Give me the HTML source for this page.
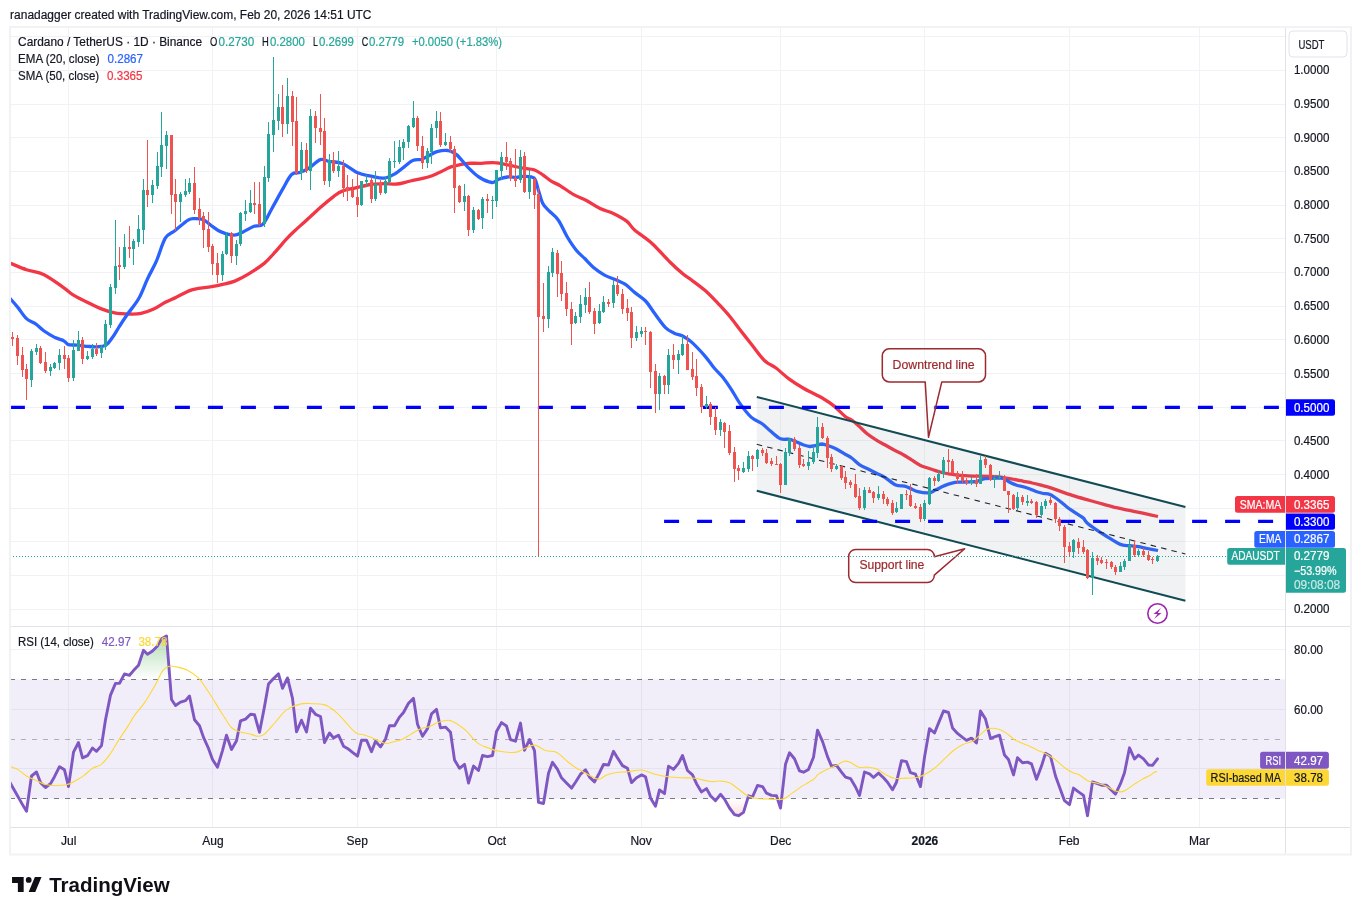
<!DOCTYPE html>
<html lang="en"><head><meta charset="utf-8"><title>ADAUSDT chart</title>
<style>html,body{margin:0;padding:0;background:#fff}body{width:1361px;height:915px;overflow:hidden}svg{display:block}text{font-family:"Liberation Sans", Arial, sans-serif;font-size:12px;fill:#131722;stroke:#131722;stroke-width:.2px}</style>
</head><body>
<svg width="1361" height="915" viewBox="0 0 1361 915">
<defs>
<clipPath id="cm"><rect x="10.5" y="27" width="1275.0" height="599.5"/></clipPath>
<clipPath id="cr"><rect x="10.5" y="626.5" width="1275.0" height="201.0"/></clipPath>
<linearGradient id="gg" gradientUnits="userSpaceOnUse" x1="0" y1="604.7" x2="0" y2="679.4"><stop offset="0" stop-color="#4caf50" stop-opacity="0.75"/><stop offset="1" stop-color="#4caf50" stop-opacity="0"/></linearGradient>
<linearGradient id="gr" gradientUnits="userSpaceOnUse" x1="0" y1="798.8" x2="0" y2="852.5"><stop offset="0" stop-color="#ff5252" stop-opacity="0"/><stop offset="1" stop-color="#ff5252" stop-opacity="0.6"/></linearGradient>
</defs>
<rect width="1361" height="915" fill="#fff"/>
<path d="M68.5,27V827.5M212.5,27V827.5M357.5,27V827.5M496.5,27V827.5M641.5,27V827.5M780.5,27V827.5M924.5,27V827.5M1069.5,27V827.5M1199.5,27V827.5M10,609.5H1285.5M10,575.5H1285.5M10,541.5H1285.5M10,508.5H1285.5M10,474.5H1285.5M10,440.5H1285.5M10,407.5H1285.5M10,373.5H1285.5M10,339.5H1285.5M10,306.5H1285.5M10,272.5H1285.5M10,238.5H1285.5M10,205.5H1285.5M10,171.5H1285.5M10,137.5H1285.5M10,104.5H1285.5M10,70.5H1285.5M10,36.5H1285.5M10,649.5H1285.5M10,709.5H1285.5M10,768.5H1285.5" stroke="#f1f2f5" stroke-width="1" fill="none"/>
<g clip-path="url(#cr)">
<rect x="10" y="679.4" width="1275.5" height="119.4" fill="#7e57c2" fill-opacity="0.1"/>
<path d="M8.2,679.4L12.5,679.4L17.5,679.4L22.5,679.4L26.5,679.4L31.5,679.4L36.5,679.4L40.5,679.4L45.5,679.4L50.5,679.4L54.5,679.4L59.5,679.4L64.5,679.4L68.5,679.4L73.5,679.4L78.5,679.4L82.5,679.4L87.5,679.4L92.5,679.4L96.5,679.4L101.5,679.4L105.5,679.4L110.5,679.4L115.5,679.4L119.5,679.4L124.5,673.9L129.5,675.3L133.5,670.6L138.5,665.3L143.5,650.3L147.5,654.3L152.5,651L157.5,645.9L161.5,638.7L166.5,636L171.5,679.4L175.5,679.4L180.5,679.4L185.5,679.4L189.5,679.4L194.5,679.4L199.5,679.4L203.5,679.4L208.5,679.4L212.5,679.4L217.5,679.4L222.5,679.4L226.5,679.4L231.5,679.4L236.5,679.4L240.5,679.4L245.5,679.4L250.5,679.4L254.5,679.4L259.5,679.4L264.5,679.4L268.5,679.4L273.5,678.6L278.5,673.9L282.5,679.4L287.5,677.9L292.5,679.4L296.5,679.4L301.5,679.4L306.5,679.4L310.5,679.4L315.5,679.4L320.5,679.4L324.5,679.4L329.5,679.4L333.5,679.4L338.5,679.4L343.5,679.4L347.5,679.4L352.5,679.4L357.5,679.4L361.5,679.4L366.5,679.4L371.5,679.4L375.5,679.4L380.5,679.4L385.5,679.4L389.5,679.4L394.5,679.4L399.5,679.4L403.5,679.4L408.5,679.4L413.5,679.4L417.5,679.4L422.5,679.4L427.5,679.4L431.5,679.4L436.5,679.4L440.5,679.4L445.5,679.4L450.5,679.4L454.5,679.4L459.5,679.4L464.5,679.4L468.5,679.4L473.5,679.4L478.5,679.4L482.5,679.4L487.5,679.4L492.5,679.4L496.5,679.4L501.5,679.4L506.5,679.4L510.5,679.4L515.5,679.4L520.5,679.4L524.5,679.4L529.5,679.4L534.5,679.4L538.5,679.4L543.5,679.4L548.5,679.4L552.5,679.4L557.5,679.4L561.5,679.4L566.5,679.4L571.5,679.4L575.5,679.4L580.5,679.4L585.5,679.4L589.5,679.4L594.5,679.4L599.5,679.4L603.5,679.4L608.5,679.4L613.5,679.4L617.5,679.4L622.5,679.4L627.5,679.4L631.5,679.4L636.5,679.4L641.5,679.4L645.5,679.4L650.5,679.4L655.5,679.4L659.5,679.4L664.5,679.4L668.5,679.4L673.5,679.4L678.5,679.4L682.5,679.4L687.5,679.4L692.5,679.4L696.5,679.4L701.5,679.4L706.5,679.4L710.5,679.4L715.5,679.4L720.5,679.4L724.5,679.4L729.5,679.4L734.5,679.4L738.5,679.4L743.5,679.4L748.5,679.4L752.5,679.4L757.5,679.4L762.5,679.4L766.5,679.4L771.5,679.4L776.5,679.4L780.5,679.4L785.5,679.4L789.5,679.4L794.5,679.4L799.5,679.4L803.5,679.4L808.5,679.4L813.5,679.4L817.5,679.4L822.5,679.4L827.5,679.4L831.5,679.4L836.5,679.4L841.5,679.4L845.5,679.4L850.5,679.4L855.5,679.4L859.5,679.4L864.5,679.4L869.5,679.4L873.5,679.4L878.5,679.4L883.5,679.4L887.5,679.4L892.5,679.4L896.5,679.4L901.5,679.4L906.5,679.4L910.5,679.4L915.5,679.4L920.5,679.4L924.5,679.4L929.5,679.4L934.5,679.4L938.5,679.4L943.5,679.4L948.5,679.4L952.5,679.4L957.5,679.4L962.5,679.4L966.5,679.4L971.5,679.4L976.5,679.4L980.5,679.4L985.5,679.4L990.5,679.4L994.5,679.4L999.5,679.4L1004.5,679.4L1008.5,679.4L1013.5,679.4L1017.5,679.4L1022.5,679.4L1027.5,679.4L1031.5,679.4L1036.5,679.4L1041.5,679.4L1045.5,679.4L1050.5,679.4L1055.5,679.4L1059.5,679.4L1064.5,679.4L1069.5,679.4L1073.5,679.4L1078.5,679.4L1083.5,679.4L1087.5,679.4L1092.5,679.4L1097.5,679.4L1101.5,679.4L1106.5,679.4L1111.5,679.4L1115.5,679.4L1120.5,679.4L1124.5,679.4L1129.5,679.4L1134.5,679.4L1138.5,679.4L1143.5,679.4L1148.5,679.4L1152.5,679.4L1157.5,679.4L1157.5,679.4L8.2,679.4Z" fill="url(#gg)"/>
<path d="M8.2,798.8L12.5,798.8L17.5,798.8L22.5,804.6L26.5,811.3L31.5,798.8L36.5,798.8L40.5,798.8L45.5,798.8L50.5,798.8L54.5,798.8L59.5,798.8L64.5,798.8L68.5,798.8L73.5,798.8L78.5,798.8L82.5,798.8L87.5,798.8L92.5,798.8L96.5,798.8L101.5,798.8L105.5,798.8L110.5,798.8L115.5,798.8L119.5,798.8L124.5,798.8L129.5,798.8L133.5,798.8L138.5,798.8L143.5,798.8L147.5,798.8L152.5,798.8L157.5,798.8L161.5,798.8L166.5,798.8L171.5,798.8L175.5,798.8L180.5,798.8L185.5,798.8L189.5,798.8L194.5,798.8L199.5,798.8L203.5,798.8L208.5,798.8L212.5,798.8L217.5,798.8L222.5,798.8L226.5,798.8L231.5,798.8L236.5,798.8L240.5,798.8L245.5,798.8L250.5,798.8L254.5,798.8L259.5,798.8L264.5,798.8L268.5,798.8L273.5,798.8L278.5,798.8L282.5,798.8L287.5,798.8L292.5,798.8L296.5,798.8L301.5,798.8L306.5,798.8L310.5,798.8L315.5,798.8L320.5,798.8L324.5,798.8L329.5,798.8L333.5,798.8L338.5,798.8L343.5,798.8L347.5,798.8L352.5,798.8L357.5,798.8L361.5,798.8L366.5,798.8L371.5,798.8L375.5,798.8L380.5,798.8L385.5,798.8L389.5,798.8L394.5,798.8L399.5,798.8L403.5,798.8L408.5,798.8L413.5,798.8L417.5,798.8L422.5,798.8L427.5,798.8L431.5,798.8L436.5,798.8L440.5,798.8L445.5,798.8L450.5,798.8L454.5,798.8L459.5,798.8L464.5,798.8L468.5,798.8L473.5,798.8L478.5,798.8L482.5,798.8L487.5,798.8L492.5,798.8L496.5,798.8L501.5,798.8L506.5,798.8L510.5,798.8L515.5,798.8L520.5,798.8L524.5,798.8L529.5,798.8L534.5,798.8L538.5,802.4L543.5,803.5L548.5,798.8L552.5,798.8L557.5,798.8L561.5,798.8L566.5,798.8L571.5,798.8L575.5,798.8L580.5,798.8L585.5,798.8L589.5,798.8L594.5,798.8L599.5,798.8L603.5,798.8L608.5,798.8L613.5,798.8L617.5,798.8L622.5,798.8L627.5,798.8L631.5,798.8L636.5,798.8L641.5,798.8L645.5,798.8L650.5,798.8L655.5,806.2L659.5,798.8L664.5,798.8L668.5,798.8L673.5,798.8L678.5,798.8L682.5,798.8L687.5,798.8L692.5,798.8L696.5,798.8L701.5,798.8L706.5,798.8L710.5,798.8L715.5,800.7L720.5,798.8L724.5,799.1L729.5,808L734.5,814.6L738.5,815.7L743.5,812.4L748.5,798.8L752.5,798.8L757.5,798.8L762.5,798.8L766.5,798.8L771.5,798.8L776.5,798.8L780.5,808L785.5,798.8L789.5,798.8L794.5,798.8L799.5,798.8L803.5,798.8L808.5,798.8L813.5,798.8L817.5,798.8L822.5,798.8L827.5,798.8L831.5,798.8L836.5,798.8L841.5,798.8L845.5,798.8L850.5,798.8L855.5,798.8L859.5,798.8L864.5,798.8L869.5,798.8L873.5,798.8L878.5,798.8L883.5,798.8L887.5,798.8L892.5,798.8L896.5,798.8L901.5,798.8L906.5,798.8L910.5,798.8L915.5,798.8L920.5,798.8L924.5,798.8L929.5,798.8L934.5,798.8L938.5,798.8L943.5,798.8L948.5,798.8L952.5,798.8L957.5,798.8L962.5,798.8L966.5,798.8L971.5,798.8L976.5,798.8L980.5,798.8L985.5,798.8L990.5,798.8L994.5,798.8L999.5,798.8L1004.5,798.8L1008.5,798.8L1013.5,798.8L1017.5,798.8L1022.5,798.8L1027.5,798.8L1031.5,798.8L1036.5,798.8L1041.5,798.8L1045.5,798.8L1050.5,798.8L1055.5,798.8L1059.5,798.8L1064.5,800.7L1069.5,804.6L1073.5,798.8L1078.5,798.8L1083.5,798.8L1087.5,815.7L1092.5,798.8L1097.5,798.8L1101.5,798.8L1106.5,798.8L1111.5,798.8L1115.5,798.8L1120.5,798.8L1124.5,798.8L1129.5,798.8L1134.5,798.8L1138.5,798.8L1143.5,798.8L1148.5,798.8L1152.5,798.8L1157.5,798.8L1157.5,798.8L8.2,798.8Z" fill="url(#gr)"/>
<path d="M10,679.5H1285.5 M10,798.5H1285.5" stroke="#787b86" stroke-width="1" stroke-dasharray="5 6" fill="none"/>
<path d="M10,739.5H1285.5" stroke="#787b86" stroke-opacity="0.55" stroke-width="1" stroke-dasharray="5 6" fill="none"/>
</g>
<g clip-path="url(#cm)" fill="none" stroke-linecap="butt" stroke-linejoin="round">
<path d="M5.5,261.5C6.2,261.8 6.4,261.7 9.9,263.1C13.4,264.4 20.8,267.7 26.5,269.7C32.1,271.6 37.8,271.7 44.1,274.7C50.3,277.8 59.1,284.4 63.9,287.8C68.7,291.1 68.7,292.1 72.7,294.6C76.8,297.1 83.4,300.4 88.2,302.7C92.9,305.1 97,307.2 101.4,308.9C105.8,310.6 109.8,312 114.6,312.9C119.4,313.7 125.6,313.9 130.1,314C134.5,314.1 137,314.2 141.1,313.3C145.1,312.4 150.3,310.5 154.3,308.7C158.3,306.9 161.6,304.2 165.3,302.3C169,300.4 172.3,299.2 176.3,297.2C180.4,295.3 185.9,292.1 189.6,290.6C193.2,289.1 194.7,289.1 198.4,288.4C202.1,287.8 207.6,287.3 211.6,286.6C215.7,286 218.8,285.4 222.6,284.4C226.5,283.5 230.3,282.9 234.8,281.1C239.2,279.3 244.1,276.7 249.1,273.6C254,270.6 260.1,266.7 264.5,263.1C268.9,259.4 271.9,255.6 275.5,251.6C279.2,247.6 283.1,242.5 286.6,238.8C290,235.2 292.6,232.8 296,229.6C299.4,226.5 303,223.4 307,219.7C311.1,216.1 315.9,211.5 320.3,207.6C324.7,203.7 329.8,199.3 333.5,196.6C337.2,193.8 338.6,192.5 342.3,191.1C346,189.6 350.8,188.9 355.5,187.8C360.3,186.7 366.2,185.2 371,184.5C375.7,183.8 379.7,183.7 384.1,183.6C388.5,183.5 392.9,184.5 397.3,184C401.7,183.6 405.4,182.1 410.5,181C415.7,179.8 423.4,178.4 428.2,177C432.9,175.6 435.5,174.2 439.2,172.6C442.9,170.9 446.9,168.4 450.2,167.1C453.5,165.8 456.1,165.5 459,164.9C462,164.2 464.2,163.6 467.8,163.3C471.5,163.1 476.7,163.4 481.1,163.3C485.5,163.2 489.9,162.4 494.3,162.7C498.7,162.9 502.7,163.9 507.5,164.9C512.3,165.8 518.5,167.4 523,168.2C527.4,169 530.7,168.6 534,169.7C537.3,170.8 539.9,172.8 542.8,174.8C545.7,176.7 548.7,179.6 551.6,181.4C554.5,183.2 556.8,183.6 560.4,185.8C564.1,188 569.2,192.1 573.7,194.6C578.1,197.1 582.5,198.5 586.9,200.8C591.3,203.1 595.7,206.4 600.1,208.5C604.5,210.6 608.9,211.3 613.3,213.4C617.7,215.5 623,218.3 626.6,221.1C630.1,223.8 630.3,226.2 634.6,230C638.9,233.8 646.4,238.3 652.3,243.7C658.1,249 664.7,256.9 669.9,262C675,267 679.4,271 683.1,274.1C686.8,277.1 688.3,277.5 691.9,280.3C695.6,283 700.7,286.7 705.2,290.6C709.6,294.5 714.3,299.6 718.4,303.8C722.4,308.1 725.7,311.6 729.4,316C733.1,320.4 736.8,325.6 740.4,330.3C744.1,335 747.4,339.1 751.4,344.2C755.5,349.3 760.6,356.8 764.7,360.7C768.7,364.6 771.7,364.8 775.7,367.8C779.7,370.8 784.1,375.3 788.9,378.8C793.7,382.3 798.6,385.4 804.3,388.7C810.1,392 818.4,395.7 823.4,398.7C828.5,401.6 830.8,403.4 834.5,406.4C838.1,409.4 842.6,414.5 845.5,416.7C848.4,419 849.6,418.5 851.7,420C853.9,421.5 855.8,423.2 858.3,425.5C860.9,427.8 864.2,431.4 867.1,433.8C870.1,436.2 873,438 876,439.8C878.9,441.7 881.8,443.1 884.8,444.8C887.7,446.5 890.7,448.2 893.6,449.8C896.5,451.3 899.5,452.5 902.4,454.2C905.4,455.8 908.3,457.8 911.2,459.7C914.2,461.5 916.4,463.5 920.1,465.2C923.7,466.9 929.4,468.5 933.1,469.8C936.7,471 938.9,471.8 941.9,472.5C944.8,473.2 947.8,473.7 950.7,474.2C953.6,474.6 956.6,475 959.5,475.3C962.5,475.5 965.4,475.7 968.3,475.8C971.3,476 973.8,476.1 977.1,476.1C980.5,476.2 984.5,476.2 988.2,476.4C991.8,476.5 996.3,476.6 999.2,476.9C1002.1,477.2 1003.2,477.6 1005.8,478C1008.4,478.4 1011.7,478.9 1014.6,479.5C1017.6,480 1020.5,480.7 1023.4,481.3C1026.4,481.9 1029.3,482.3 1032.3,483C1035.2,483.6 1038.1,484.4 1041.1,485.2C1044,486 1044.8,485.9 1050,487.6C1055.2,489.3 1065.6,493.2 1072.3,495.4C1078.9,497.5 1084.7,499 1089.9,500.5C1095,501.9 1098.7,503 1103.1,504.2C1107.5,505.4 1111.9,506.7 1116.3,507.7C1120.7,508.8 1125.2,509.5 1129.6,510.4C1134,511.3 1138.1,512.2 1142.8,513.2C1147.5,514.3 1155.5,516 1158,516.5" stroke="#f23645" stroke-width="3.3"/>
<path d="M5.5,293.9C6.2,294.7 7.9,296.1 9.9,298.3C11.9,300.5 14.9,303.8 17.6,307.1C20.4,310.5 23.5,315.9 26.5,318.6C29.4,321.4 32.3,321.6 35.3,323.7C38.2,325.7 40.8,328.6 44.1,331C47.4,333.3 51.8,335.9 55.1,337.6C58.4,339.2 61.7,339.7 63.9,340.9C66.1,342 66.1,343.9 68.3,344.6C70.5,345.3 73.8,344.8 77.1,345.1C80.5,345.4 84.9,346.1 88.2,346.4C91.5,346.7 94,347 97,346.8C99.9,346.6 103.2,346.6 105.8,345.1C108.4,343.5 110.2,340.6 112.4,337.6C114.6,334.6 116.5,331 119,327C121.6,323 124.5,318.5 127.8,313.8C131.2,309 135.6,304.2 138.9,298.3C142.2,292.5 144.7,284.7 147.7,278.5C150.6,272.2 153.6,267.6 156.5,260.9C159.4,254.1 162.3,243.2 165.3,238.2C168.4,233.1 171,233.7 174.8,230.7C178.6,227.8 184.7,222.2 188,220.2C191.3,218.1 192,218.7 194.6,218.6C197.2,218.6 200.5,218.4 203.4,219.7C206.4,221 209.3,224.3 212.3,226.3C215.2,228.4 217.4,230.4 221.1,231.9C224.7,233.3 230.6,235.2 234.3,235.2C238,235.2 239.8,233.3 243.1,231.9C246.4,230.4 250.8,227.6 254.1,226.3C257.4,225.1 260,227.1 263,224.1C265.9,221.2 268.5,214.6 271.8,208.7C275.1,202.8 279.5,194.6 282.8,188.9C286.1,183.2 288.7,177.3 291.6,174.5C294.5,171.8 297.5,173.4 300.4,172.3C303.4,171.2 305.9,170.1 309.2,167.9C312.5,165.8 317,160.7 320.3,159.6C323.6,158.4 325.4,160.7 329.1,161.3C332.8,162 337.5,161.6 342.3,163.5C347.1,165.4 353,170.7 357.7,172.8C362.5,174.9 366.6,175.2 371,176.1C375.4,177 380.1,178.5 384.1,178.1C388.1,177.7 391.8,175.5 395.1,173.7C398.4,171.8 401,169.3 403.9,167.1C406.9,164.9 409.8,161.7 412.7,160.5C415.7,159.2 419,160.1 421.6,159.4C424.1,158.6 425.6,157.3 428.2,156C430.7,154.8 433.7,152.6 437,151.6C440.3,150.7 444.7,150 448,150.5C451.3,151.1 453.5,152.2 456.8,154.9C460.1,157.7 464.2,163.4 467.8,167.1C471.5,170.7 474.8,174.4 478.9,177C482.9,179.6 488.8,182.1 492.1,182.5C495.4,182.9 496.1,180.1 498.7,179.2C501.3,178.3 504.6,177.3 507.5,177C510.5,176.7 513.8,177.5 516.3,177.4C518.9,177.3 520,176.2 523,176.3C525.9,176.4 531.4,175.8 534,178.1C536.5,180.4 536.9,186 538.4,190.2C539.9,194.4 541,199.9 542.8,203.4C544.6,206.9 546.8,208.4 549.4,211.2C552,213.9 555.3,215.7 558.2,220C561.2,224.2 564.1,231.5 567,236.5C570,241.5 572.9,246.1 575.9,249.7C578.8,253.4 581.7,255.6 584.7,258.5C587.6,261.5 590.2,264.6 593.5,267.4C596.8,270.1 600.6,272.9 604.5,275.1C608.4,277.2 613.4,278.7 617,280.3C620.5,281.9 622.9,282.6 625.8,284.7C628.7,286.7 631.3,289.7 634.6,292.4C637.9,295.1 642.3,297.5 645.6,301C648.9,304.5 651.2,308.9 654.5,313.3C657.8,317.8 662.2,324.3 665.5,327.6C668.8,331 671.4,331.7 674.3,333.2C677.2,334.6 680.2,334.7 683.1,336.2C686.1,337.8 688.3,339.1 691.9,342.4C695.6,345.8 701.5,352.1 705.2,356.3C708.8,360.5 711,364.3 714,367.8C716.9,371.3 719.9,373.6 722.8,377.2C725.7,380.9 728.7,385.3 731.6,389.8C734.5,394.3 737.1,399.5 740.4,404.1C743.7,408.7 747.8,414.1 751.4,417.4C755.1,420.7 759.3,421.7 762.5,424C765.7,426.3 767.5,428.6 770.5,431.1C773.5,433.5 777.2,437.4 780.5,438.8C783.7,440.1 787.3,438.7 790,439.3C792.7,439.8 794.4,441.1 796.6,442C798.8,443 801,444.1 803.2,444.8C805.4,445.5 807.8,446.3 809.8,446.5C811.9,446.6 813.3,446 815.3,445.6C817.4,445.2 819.8,444 822,444C824.2,444.1 826.2,445.1 828.6,445.9C831,446.7 833.5,447.5 836.3,448.9C839,450.3 842.5,452.6 845.1,454.2C847.7,455.7 849.3,456.3 851.7,458C854.1,459.8 856.9,462.9 859.4,464.6C862,466.4 864.4,467.1 867.1,468.5C869.9,469.9 873,471.4 876,472.9C878.9,474.4 881.5,475.3 884.8,477.3C888.1,479.3 892.5,483.6 895.8,485C899.1,486.5 902,485.5 904.6,486.1C907.2,486.8 909,488 911.2,488.9C913.4,489.8 914.9,491 917.8,491.6C920.8,492.3 925.8,493.2 928.7,492.9C931.6,492.7 933.1,491.2 935.3,490.1C937.5,489.1 939.7,487.9 941.9,486.8C944.1,485.8 946.3,484.8 948.5,484.1C950.7,483.4 952.9,482.8 955.1,482.4C957.3,482.1 959.1,482.2 961.7,482.1C964.3,482 968,482 970.5,481.9C973.1,481.8 975.3,481.7 977.1,481.3C979,481 980.3,480.1 981.6,479.7C982.8,479.2 983.2,478.8 984.9,478.6C986.5,478.4 989.1,478.4 991.5,478.4C993.9,478.3 997.2,478 999.2,478C1001.2,478.1 1001.8,477.8 1003.6,478.6C1005.4,479.3 1008,481.3 1010.2,482.4C1012.4,483.5 1014.6,484.5 1016.8,485.2C1019,485.9 1021.2,486.2 1023.4,486.8C1025.6,487.5 1027.8,488.2 1030.1,489C1032.3,489.9 1034.5,491.1 1036.7,491.8C1038.9,492.5 1041.1,493 1043.3,493.5C1045.5,493.9 1047.4,493.4 1050,494.6C1052.6,495.7 1056.1,498.3 1059,500.5C1062,502.7 1064.9,505.5 1067.8,507.7C1070.8,509.9 1074.1,512 1076.7,513.7C1079.2,515.4 1081.4,516.4 1083.3,518.1C1085.1,519.7 1085.1,521.4 1087.7,523.6C1090.3,525.8 1095.4,529.1 1098.7,531.3C1102,533.5 1104.6,535 1107.5,536.8C1110.5,538.7 1113.8,540.9 1116.3,542.3C1118.9,543.7 1120.7,544.7 1123,545.2C1125.2,545.8 1127,545.4 1129.6,545.6C1132.1,545.9 1135.4,546.3 1138.4,546.7C1141.3,547.2 1143.9,547.9 1147.2,548.5C1150.5,549.1 1156.2,550.2 1158,550.5" stroke="#2962ff" stroke-width="3.3"/>
</g>
<g clip-path="url(#cm)">
<path d="M756.8,396.9L1185.4,507.1L1185.4,600.7L756.8,490.8Z" fill="#787b86" fill-opacity="0.1"/>
<path d="M756.8,444.3L1185.4,554.0" stroke="#1e222d" stroke-width="1.1" stroke-dasharray="5.5 5.2" fill="none"/>
<path d="M756.8,396.9L1185.4,507.1M756.8,490.8L1185.4,600.7" stroke="#114b54" stroke-width="2.1" fill="none"/>
<path d="M9.9,407.3H1285.5" stroke="#0000ff" stroke-width="3.2" stroke-dasharray="15 18" fill="none"/>
<path d="M664.1,521.4H1285.5" stroke="#0000ff" stroke-width="3.2" stroke-dasharray="15 18" fill="none"/>
<path d="M889.3,348.8H978.5A7,7 0 0 1 985.5,355.8V374.9A7,7 0 0 1 978.5,381.9H941.8L928.5,437.3L925.2,381.9H889.3A7,7 0 0 1 882.3,374.9V355.8A7,7 0 0 1 889.3,348.8Z" fill="#fff" fill-opacity="0.3" stroke="#9c2a2f" stroke-width="1.5" stroke-linejoin="round"/>
<path d="M855.7,549.4H927.3A7,7 0 0 1 934.3,556.4V556.7L964.7,548.7L934.3,575.1V575.5A7,7 0 0 1 927.3,582.5H855.7A7,7 0 0 1 848.7,575.5V556.4A7,7 0 0 1 855.7,549.4Z" fill="#fff" fill-opacity="0.3" stroke="#9c2a2f" stroke-width="1.5" stroke-linejoin="round"/>
</g>
<text x="933.6" y="369" text-anchor="middle" style="fill:#9c2a2f;stroke:#9c2a2f" textLength="82" lengthAdjust="spacingAndGlyphs">Downtrend line</text>
<text x="891.9" y="568.6" text-anchor="middle" style="fill:#9c2a2f;stroke:#9c2a2f" textLength="65" lengthAdjust="spacingAndGlyphs">Support line</text>
<g clip-path="url(#cm)" shape-rendering="crispEdges">
<path d="M31,349h1v38h-1zM30,351h3v29h-3zM36,344h1v11h-1zM35,348h3v4h-3zM50,364h1v12h-1zM49,367h3v4h-3zM54,362h1v7h-1zM53,363h3v5h-3zM59,349h1v21h-1zM58,355h3v8h-3zM73,340h1v41h-1zM72,350h3v28h-3zM78,331h1v20h-1zM77,340h3v11h-3zM87,351h1v9h-1zM86,356h3v3h-3zM92,344h1v15h-1zM91,349h3v8h-3zM101,345h1v13h-1zM100,347h3v6h-3zM105,320h1v30h-1zM104,324h3v23h-3zM110,284h1v44h-1zM109,287h3v38h-3zM115,220h1v74h-1zM114,266h3v22h-3zM124,234h1v35h-1zM123,247h3v20h-3zM133,239h1v26h-1zM132,241h3v8h-3zM138,215h1v32h-1zM137,229h3v13h-3zM143,179h1v65h-1zM142,190h3v40h-3zM152,180h1v23h-1zM151,185h3v10h-3zM157,152h1v37h-1zM156,166h3v20h-3zM161,112h1v65h-1zM160,145h3v22h-3zM166,131h1v38h-1zM165,135h3v11h-3zM180,192h1v30h-1zM179,194h3v8h-3zM185,179h1v18h-1zM184,191h3v4h-3zM189,178h1v16h-1zM188,183h3v9h-3zM222,251h1v30h-1zM221,254h3v21h-3zM226,232h1v23h-1zM225,235h3v19h-3zM236,240h1v25h-1zM235,244h3v12h-3zM240,212h1v34h-1zM239,213h3v31h-3zM245,200h1v21h-1zM244,211h3v3h-3zM250,190h1v23h-1zM249,203h3v9h-3zM264,166h1v61h-1zM263,177h3v47h-3zM268,122h1v60h-1zM267,134h3v44h-3zM273,57h1v95h-1zM272,120h3v15h-3zM278,94h1v36h-1zM277,107h3v14h-3zM287,78h1v56h-1zM286,96h3v28h-3zM301,142h1v38h-1zM300,150h3v23h-3zM310,109h1v81h-1zM309,116h3v55h-3zM329,154h1v33h-1zM328,160h3v21h-3zM338,151h1v26h-1zM337,166h3v5h-3zM361,181h1v25h-1zM360,181h3v24h-3zM366,175h1v12h-1zM365,180h3v2h-3zM375,171h1v30h-1zM374,184h3v15h-3zM385,177h1v17h-1zM384,181h3v12h-3zM389,158h1v26h-1zM388,161h3v21h-3zM394,141h1v27h-1zM393,161h3v1h-3zM399,140h1v24h-1zM398,147h3v15h-3zM403,139h1v21h-1zM402,142h3v6h-3zM408,125h1v23h-1zM407,126h3v16h-3zM413,101h1v27h-1zM412,118h3v9h-3zM427,148h1v20h-1zM426,151h3v12h-3zM431,124h1v40h-1zM430,128h3v24h-3zM436,111h1v27h-1zM435,121h3v7h-3zM445,133h1v13h-1zM444,142h3v3h-3zM464,184h1v27h-1zM463,196h3v6h-3zM473,207h1v26h-1zM472,210h3v20h-3zM482,197h1v32h-1zM481,199h3v19h-3zM492,196h1v23h-1zM491,200h3v1h-3zM496,170h1v37h-1zM495,170h3v31h-3zM501,152h1v28h-1zM500,157h3v14h-3zM520,150h1v33h-1zM519,157h3v23h-3zM529,170h1v29h-1zM528,178h3v14h-3zM548,266h1v62h-1zM547,272h3v47h-3zM552,248h1v29h-1zM551,252h3v21h-3zM575,312h1v12h-1zM574,316h3v7h-3zM580,295h1v28h-1zM579,304h3v13h-3zM585,288h1v25h-1zM584,297h3v8h-3zM599,304h1v20h-1zM598,311h3v12h-3zM603,296h1v17h-1zM602,302h3v10h-3zM613,280h1v28h-1zM612,285h3v18h-3zM636,326h1v15h-1zM635,332h3v6h-3zM641,327h1v10h-1zM640,331h3v3h-3zM659,373h1v37h-1zM658,376h3v18h-3zM668,349h1v45h-1zM667,355h3v30h-3zM678,350h1v24h-1zM677,354h3v6h-3zM682,336h1v20h-1zM681,344h3v11h-3zM706,396h1v13h-1zM705,404h3v3h-3zM720,419h1v17h-1zM719,422h3v8h-3zM743,462h1v11h-1zM742,468h3v4h-3zM748,451h1v21h-1zM747,456h3v13h-3zM757,449h1v18h-1zM756,450h3v9h-3zM785,448h1v37h-1zM784,452h3v33h-3zM789,438h1v18h-1zM788,439h3v14h-3zM808,451h1v19h-1zM807,462h3v4h-3zM813,446h1v18h-1zM812,452h3v10h-3zM817,417h1v41h-1zM816,427h3v26h-3zM836,464h1v6h-1zM835,466h3v3h-3zM864,487h1v23h-1zM863,490h3v18h-3zM878,486h1v14h-1zM877,494h3v4h-3zM896,502h1v11h-1zM895,508h3v4h-3zM901,494h1v15h-1zM900,494h3v15h-3zM924,500h1v21h-1zM923,503h3v16h-3zM929,477h1v28h-1zM928,478h3v26h-3zM938,470h1v12h-1zM937,474h3v7h-3zM943,457h1v21h-1zM942,460h3v14h-3zM971,477h1v8h-1zM970,480h3v3h-3zM980,456h1v28h-1zM979,460h3v24h-3zM994,475h1v13h-1zM993,478h3v2h-3zM999,471h1v9h-1zM998,477h3v1h-3zM1017,492h1v18h-1zM1016,497h3v11h-3zM1027,495h1v11h-1zM1026,501h3v2h-3zM1041,502h1v14h-1zM1040,506h3v9h-3zM1045,499h1v10h-1zM1044,501h3v5h-3zM1073,539h1v19h-1zM1072,540h3v12h-3zM1092,552h1v43h-1zM1091,558h3v20h-3zM1120,562h1v10h-1zM1119,566h3v6h-3zM1124,559h1v11h-1zM1123,561h3v6h-3zM1129,539h1v22h-1zM1128,545h3v16h-3zM1138,549h1v7h-1zM1137,551h3v4h-3zM1157,555h1v7h-1zM1156,556h3v5h-3z" fill="#26a69a"/>
<path d="M12,332h1v14h-1zM11,337h3v2h-3zM17,335h1v30h-1zM16,338h3v18h-3zM22,347h1v30h-1zM21,355h3v15h-3zM26,364h1v36h-1zM25,369h3v10h-3zM40,346h1v18h-1zM39,348h3v15h-3zM45,352h1v21h-1zM44,362h3v9h-3zM64,346h1v23h-1zM63,355h3v4h-3zM68,355h1v27h-1zM67,358h3v20h-3zM82,337h1v27h-1zM81,340h3v19h-3zM96,343h1v13h-1zM95,349h3v5h-3zM119,247h1v33h-1zM118,265h3v2h-3zM129,226h1v32h-1zM128,247h3v2h-3zM147,140h1v67h-1zM146,190h3v5h-3zM171,135h1v79h-1zM170,135h3v60h-3zM175,179h1v52h-1zM174,194h3v8h-3zM194,167h1v47h-1zM193,183h3v27h-3zM199,198h1v27h-1zM198,209h3v9h-3zM203,212h1v36h-1zM202,216h3v14h-3zM208,212h1v40h-1zM207,229h3v18h-3zM212,244h1v31h-1zM211,246h3v18h-3zM217,253h1v30h-1zM216,263h3v12h-3zM231,232h1v31h-1zM230,233h3v23h-3zM254,182h1v32h-1zM253,203h3v2h-3zM259,182h1v44h-1zM258,204h3v20h-3zM282,85h1v52h-1zM281,107h3v17h-3zM292,91h1v55h-1zM291,96h3v26h-3zM296,97h1v78h-1zM295,121h3v52h-3zM306,143h1v30h-1zM305,150h3v21h-3zM315,111h1v32h-1zM314,116h3v12h-3zM320,94h1v51h-1zM319,128h3v4h-3zM324,118h1v67h-1zM323,131h3v50h-3zM333,152h1v21h-1zM332,160h3v11h-3zM343,160h1v37h-1zM342,166h3v22h-3zM347,175h1v26h-1zM346,187h3v4h-3zM352,179h1v19h-1zM351,190h3v7h-3zM357,174h1v43h-1zM356,197h3v8h-3zM371,177h1v26h-1zM370,180h3v19h-3zM380,180h1v15h-1zM379,183h3v10h-3zM417,116h1v35h-1zM416,118h3v28h-3zM422,136h1v33h-1zM421,146h3v17h-3zM440,112h1v35h-1zM439,121h3v24h-3zM450,136h1v17h-1zM449,142h3v7h-3zM454,146h1v67h-1zM453,149h3v39h-3zM459,185h1v18h-1zM458,186h3v16h-3zM468,195h1v41h-1zM467,196h3v34h-3zM478,209h1v11h-1zM477,210h3v9h-3zM487,194h1v19h-1zM486,199h3v2h-3zM506,142h1v28h-1zM505,157h3v5h-3zM510,158h1v23h-1zM509,161h3v17h-3zM515,149h1v38h-1zM514,178h3v3h-3zM524,152h1v41h-1zM523,156h3v36h-3zM534,178h1v31h-1zM533,179h3v16h-3zM538,188h1v369h-1zM537,194h3v123h-3zM543,283h1v49h-1zM542,316h3v3h-3zM557,250h1v47h-1zM556,253h3v21h-3zM561,261h1v40h-1zM560,273h3v21h-3zM566,282h1v34h-1zM565,293h3v16h-3zM571,302h1v43h-1zM570,309h3v15h-3zM589,282h1v32h-1zM588,297h3v15h-3zM594,308h1v26h-1zM593,311h3v13h-3zM608,299h1v8h-1zM607,302h3v2h-3zM617,276h1v20h-1zM616,285h3v9h-3zM622,289h1v25h-1zM621,294h3v15h-3zM627,299h1v22h-1zM626,308h3v5h-3zM631,307h1v41h-1zM630,312h3v26h-3zM645,327h1v18h-1zM644,331h3v1h-3zM650,331h1v57h-1zM649,332h3v40h-3zM655,364h1v49h-1zM654,371h3v23h-3zM664,375h1v19h-1zM663,376h3v9h-3zM673,344h1v25h-1zM672,355h3v5h-3zM687,335h1v35h-1zM686,344h3v26h-3zM692,352h1v28h-1zM691,369h3v8h-3zM696,359h1v37h-1zM695,376h3v12h-3zM701,384h1v29h-1zM700,387h3v20h-3zM710,402h1v23h-1zM709,404h3v13h-3zM715,407h1v28h-1zM714,417h3v13h-3zM724,422h1v26h-1zM723,423h3v9h-3zM729,425h1v30h-1zM728,431h3v22h-3zM734,447h1v35h-1zM733,452h3v17h-3zM738,465h1v15h-1zM737,468h3v3h-3zM752,455h1v16h-1zM751,456h3v3h-3zM762,448h1v8h-1zM761,450h3v3h-3zM766,449h1v15h-1zM765,453h3v10h-3zM771,458h1v8h-1zM770,461h3v3h-3zM776,456h1v9h-1zM775,464h3v1h-3zM780,463h1v30h-1zM779,464h3v21h-3zM794,437h1v14h-1zM793,439h3v10h-3zM799,445h1v23h-1zM798,448h3v17h-3zM803,459h1v8h-1zM802,464h3v2h-3zM822,423h1v16h-1zM821,427h3v11h-3zM827,436h1v32h-1zM826,438h3v20h-3zM831,454h1v18h-1zM830,457h3v12h-3zM841,466h1v14h-1zM840,466h3v12h-3zM845,471h1v18h-1zM844,477h3v6h-3zM850,480h1v8h-1zM849,482h3v3h-3zM855,474h1v24h-1zM854,484h3v13h-3zM859,488h1v22h-1zM858,496h3v12h-3zM869,487h1v6h-1zM868,490h3v3h-3zM873,491h1v12h-1zM872,492h3v6h-3zM883,491h1v13h-1zM882,494h3v5h-3zM887,497h1v9h-1zM886,499h3v5h-3zM892,500h1v15h-1zM891,503h3v10h-3zM906,490h1v10h-1zM905,494h3v1h-3zM910,484h1v23h-1zM909,495h3v11h-3zM915,503h1v6h-1zM914,506h3v2h-3zM920,504h1v18h-1zM919,507h3v12h-3zM934,476h1v10h-1zM933,478h3v3h-3zM948,449h1v23h-1zM947,460h3v2h-3zM952,459h1v15h-1zM951,461h3v12h-3zM957,471h1v13h-1zM956,473h3v6h-3zM962,471h1v12h-1zM961,476h3v5h-3zM966,478h1v7h-1zM965,480h3v3h-3zM976,474h1v13h-1zM975,480h3v4h-3zM985,456h1v12h-1zM984,459h3v6h-3zM990,464h1v17h-1zM989,465h3v15h-3zM1004,475h1v16h-1zM1003,477h3v14h-3zM1008,491h1v22h-1zM1007,491h3v4h-3zM1013,494h1v16h-1zM1012,495h3v14h-3zM1022,495h1v10h-1zM1021,497h3v5h-3zM1031,499h1v5h-1zM1030,501h3v2h-3zM1036,501h1v17h-1zM1035,502h3v13h-3zM1050,497h1v8h-1zM1049,500h3v3h-3zM1055,502h1v21h-1zM1054,503h3v16h-3zM1059,517h1v14h-1zM1058,519h3v7h-3zM1064,525h1v38h-1zM1063,527h3v20h-3zM1069,542h1v14h-1zM1068,546h3v6h-3zM1078,538h1v16h-1zM1077,542h3v6h-3zM1083,540h1v14h-1zM1082,547h3v5h-3zM1087,549h1v30h-1zM1086,550h3v28h-3zM1097,555h1v10h-1zM1096,558h3v3h-3zM1101,557h1v7h-1zM1100,560h3v3h-3zM1106,559h1v10h-1zM1105,562h3v1h-3zM1111,561h1v8h-1zM1110,562h3v5h-3zM1115,565h1v10h-1zM1114,567h3v5h-3zM1134,540h1v17h-1zM1133,545h3v10h-3zM1143,548h1v9h-1zM1142,551h3v4h-3zM1148,551h1v10h-1zM1147,555h3v5h-3zM1152,557h1v7h-1zM1151,559h3v1h-3z" fill="#ef5350"/>
</g>
<path d="M10,556.5H1285.5" stroke="#26a69a" stroke-width="1" stroke-dasharray="1 2" fill="none"/>
<circle cx="1157.5" cy="613.5" r="11.3" fill="#fff"/><circle cx="1157.5" cy="613.5" r="9.7" fill="#fff" stroke="#9c27b0" stroke-width="1.6"/><path d="M1160.9,608.1L1153.5,614L1157.5,614.1L1154.1,619L1161.5,613.1L1157.8,613Z" fill="#9c27b0"/>
<g clip-path="url(#cr)" fill="none" stroke-linejoin="round" stroke-linecap="round">
<path d="M8.2,779.3L12.5,787L17.5,795.8L22.5,804.6L26.5,811.3L31.5,776L36.5,772L40.5,782.6L45.5,787.5L50.5,783.7L54.5,776.7L59.5,766.7L64.5,769.8L68.5,786.6L73.5,752.2L78.5,742.5L82.5,757.9L87.5,755.7L92.5,748L96.5,751.3L101.5,745.6L105.5,719.8L110.5,695.1L115.5,683.4L119.5,683.4L124.5,673.9L129.5,675.3L133.5,670.6L138.5,665.3L143.5,650.3L147.5,654.3L152.5,651L157.5,645.9L161.5,638.7L166.5,636L171.5,699.5L175.5,705.5L180.5,702.1L185.5,700.6L189.5,696L194.5,719.8L199.5,725.7L203.5,737.4L208.5,748.4L212.5,759.5L217.5,767.2L222.5,750.6L226.5,735.2L231.5,749.5L236.5,740.7L240.5,720.9L245.5,719.1L250.5,714.3L254.5,714.7L259.5,732.3L264.5,706.6L268.5,684.1L273.5,678.6L278.5,673.9L282.5,688.3L287.5,677.9L292.5,698.4L296.5,731.9L301.5,720.2L306.5,731.9L310.5,708.3L315.5,714.3L320.5,716.5L324.5,742.5L329.5,733L333.5,737.9L338.5,735.2L343.5,746.2L347.5,748.4L352.5,752.4L357.5,756.2L361.5,740.3L366.5,740.1L371.5,751.7L375.5,741.2L380.5,746.9L385.5,739L389.5,725.7L394.5,725.7L399.5,717.1L403.5,712.5L408.5,703.3L413.5,698.4L417.5,724.2L422.5,736.3L427.5,728.6L431.5,713.8L436.5,709.4L440.5,727.9L445.5,727.1L450.5,732.3L454.5,759.9L459.5,768.3L464.5,764.3L468.5,783L473.5,766.1L478.5,770.5L482.5,755.5L487.5,756.6L492.5,755.5L496.5,731.5L501.5,722.6L506.5,726L510.5,739.6L515.5,741.2L520.5,723.1L524.5,750.2L529.5,739.6L534.5,750.6L538.5,802.4L543.5,803.5L548.5,773.3L552.5,762.3L557.5,769.4L561.5,777.8L566.5,783L571.5,788.1L575.5,782.2L580.5,774.2L585.5,769.8L589.5,777.1L594.5,781.9L599.5,772.7L603.5,764.5L608.5,765L613.5,751.3L617.5,757.9L622.5,765.6L627.5,768.3L631.5,782.6L636.5,777.8L641.5,774.9L645.5,776.7L650.5,798L655.5,806.2L659.5,789.9L664.5,793.6L668.5,766.1L673.5,769.4L678.5,763.4L682.5,755.5L687.5,770.5L692.5,774.9L696.5,783.7L701.5,791.9L706.5,788.6L710.5,795.8L715.5,800.7L720.5,794.3L724.5,799.1L729.5,808L734.5,814.6L738.5,815.7L743.5,812.4L748.5,795.8L752.5,796.9L757.5,785.5L762.5,786.6L766.5,793.2L771.5,795.4L776.5,795.8L780.5,808L785.5,764.3L789.5,752.8L794.5,758.8L799.5,770.9L803.5,772.2L808.5,769.4L813.5,757.3L817.5,730.1L822.5,741.4L827.5,756.6L831.5,766.1L836.5,765.4L841.5,772.2L845.5,777.1L850.5,778.6L855.5,787L859.5,795.4L864.5,772L869.5,773.8L873.5,777.5L878.5,773.1L883.5,777.8L887.5,782.2L892.5,789.7L896.5,782.2L901.5,760.6L906.5,761.7L910.5,772.7L915.5,774.2L920.5,786.6L924.5,757.3L929.5,728.6L934.5,733L938.5,723.1L943.5,711L948.5,712.5L952.5,727.9L957.5,733.4L962.5,737.4L966.5,740.3L971.5,738.1L976.5,742.9L980.5,711L985.5,719.1L990.5,738.5L994.5,736.8L999.5,735.2L1004.5,755.1L1008.5,759.5L1013.5,774.9L1017.5,757.7L1022.5,762.8L1027.5,762.1L1031.5,763.9L1036.5,779.3L1041.5,766.1L1045.5,753.3L1050.5,756.2L1055.5,776L1059.5,787L1064.5,800.7L1069.5,804.6L1073.5,788.1L1078.5,791.9L1083.5,795.4L1087.5,815.7L1092.5,781.9L1097.5,783.7L1101.5,785.2L1106.5,785.2L1111.5,790.3L1115.5,794.1L1120.5,783.7L1124.5,772.7L1129.5,747.8L1134.5,759L1138.5,755.1L1143.5,758.8L1148.5,765L1152.5,765.4L1157.5,758.8" stroke="#7e57c2" stroke-width="2.9"/>
<path d="M5.5,765C6.2,765.2 7.9,765.8 9.9,766.5C11.9,767.2 14.9,767.8 17.6,769.4C20.4,771 23.5,774.2 26.5,776C29.4,777.8 32.3,778.6 35.3,780C38.2,781.3 41.1,783.2 44.1,784.1C47,785.1 49.2,785.4 52.9,785.5C56.6,785.6 62.5,785.5 66.1,784.8C69.8,784.1 72,782.6 74.9,781.1C77.9,779.5 80.8,777.7 83.8,775.6C86.7,773.4 89.6,770.2 92.6,768.3C95.5,766.4 98.5,766.7 101.4,764.3C104.3,761.9 107.3,758.1 110.2,753.9C113.2,749.8 116.1,744.2 119,739.6C122,735 125.3,730.4 127.8,726.4C130.4,722.4 131.9,719 134.5,715.4C137,711.7 140,709.1 143.3,704.4C146.6,699.6 151,692.4 154.3,686.7C157.6,681 160.5,673.6 163.1,670.2C165.7,666.8 167.5,666.8 169.7,666.2C171.9,665.7 173.4,666.2 176.3,666.9C179.3,667.5 183.7,668.4 187.4,670.2C191,672 194.7,674 198.4,677.9C202.1,681.8 205.7,687.8 209.4,693.3C213.1,698.8 216.8,705.3 220.4,711C224.1,716.7 228.1,724 231.4,727.5C234.8,731 237.3,730.9 240.3,731.9C243.2,732.9 246.1,732.9 249.1,733.7C252,734.4 255.3,736.2 257.9,736.3C260.5,736.4 261.6,736.5 264.5,734.1C267.5,731.7 271.9,726 275.5,722C279.2,717.9 282.3,712.9 286.6,709.9C290.8,706.9 296.8,704.9 301,703.9C305.3,702.9 308.4,703.6 312,703.7C315.7,703.8 320.1,703.8 323.1,704.4C326,704.9 327.1,705.6 329.7,707.2C332.2,708.9 335.6,711.4 338.5,714.3C341.4,717.1 344.4,721.1 347.3,724.2C350.2,727.3 353.2,731.2 356.1,733C359.1,734.8 362,734.3 364.9,735.2C367.9,736.1 370.5,737.2 373.8,738.5C377.1,739.9 381.5,742.8 384.8,743.4C388.1,743.9 390.7,742.5 393.6,741.8C396.5,741.1 399.5,740.5 402.4,739.2C405.4,737.9 408.3,735.8 411.2,734.1C414.2,732.4 417.1,730.3 420.1,729C423,727.8 425.9,727.9 428.9,726.8C431.8,725.8 434.4,723.8 437.7,722.6C441,721.5 445.4,720 448.7,720.2C452,720.5 454.6,722.4 457.5,724.2C460.5,726 463,727.7 466.3,730.8C469.6,733.9 473.7,740.1 477.4,742.9C481,745.8 484.7,746.6 488.4,748C492.1,749.4 495,750.6 499.4,751.3C503.8,752 510.8,752.8 514.8,752.4C518.9,752 520.3,750.1 523.7,748.9C527,747.7 531,744.8 534.7,745.1C538.3,745.4 542,749.4 545.7,750.6C549.4,751.9 553,750.6 556.7,752.4C560.4,754.2 564.4,759 567.7,761.7C571,764.3 574.5,766.9 576.6,768.3C578.6,769.7 578,768.9 580,770C582,771.1 585.7,773.3 588.8,774.9C591.9,776.4 595.8,779.3 598.7,779.3C601.7,779.3 603.7,776 606.5,774.9C609.2,773.8 611.6,773.2 615.3,772.7C618.9,772.1 624.1,772 628.5,771.6C632.9,771.1 637.3,769.6 641.7,770C646.1,770.5 650.5,773.1 654.9,774.2C659.4,775.3 663.8,776.1 668.2,776.7C672.6,777.2 677,777.5 681.4,777.8C685.8,778 689.8,777.6 694.6,778.2C699.4,778.8 705.6,781 710.1,781.5C714.5,782 717.8,780.8 721.1,781.1C724.4,781.3 727,781.7 729.9,783C732.8,784.4 735.8,787.1 738.7,789.2C741.6,791.3 744.6,794.3 747.5,795.8C750.5,797.4 752.7,797.9 756.3,798.5C760,799 765.2,799 769.6,799.1C774,799.2 779.1,800.1 782.8,799.1C786.5,798.2 788.3,795.8 791.6,793.6C794.9,791.4 799,788.3 802.6,785.9C806.3,783.5 811.1,781.2 813.7,779.3C816.2,777.4 815.9,776.1 818.1,774.4C820.3,772.8 823.9,770.8 826.9,769.4C829.8,767.9 832.8,767 835.7,765.6C838.6,764.3 841.9,761.7 844.5,761.2C847.1,760.7 848.7,761.8 851.1,762.8C853.5,763.8 855.9,766.4 858.8,767.2C861.8,767.9 865.8,766.9 868.8,767.2C871.7,767.5 873.8,767.7 876.6,768.9C879.4,770.2 882.5,772.9 885.4,774.4C888.4,776 891.3,777.6 894.2,778.2C897.2,778.8 899,778.4 903.1,778.2C907.1,778 913.4,778.7 918.5,777.1C923.6,775.5 929.5,771.8 933.9,768.7C938.3,765.6 941.6,761.4 944.9,758.4C948.3,755.3 950.8,752.5 953.8,750.2C956.7,747.9 959.3,746.3 962.6,744.7C965.9,743.1 970.3,742.7 973.6,740.7C976.9,738.7 979.8,734.6 982.4,732.6C985,730.5 986.3,729.2 989,728.6C991.8,728 996,728.5 998.9,729.3C1001.9,730.1 1003.9,731.6 1006.7,733.4C1009.4,735.3 1011.8,738.2 1015.5,740.3C1019.2,742.3 1025,744.1 1028.7,745.8C1032.4,747.4 1034.6,748.8 1037.5,750.2C1040.5,751.6 1043.4,752.4 1046.3,753.9C1049.3,755.5 1052.2,757.3 1055.2,759.5C1058.1,761.7 1061,765 1064,767.2C1066.9,769.4 1070.2,771.4 1072.8,772.7C1075.4,774 1076.8,773.5 1079.4,774.9C1082,776.3 1085.3,779.7 1088.2,781.1C1091.2,782.5 1094.1,782.5 1097,783.3C1100,784.1 1102.9,784.7 1105.9,785.9C1108.8,787.2 1112.1,789.8 1114.7,790.8C1117.2,791.8 1119.4,791.9 1121.3,791.9C1123.1,791.8 1123.5,791.6 1125.7,790.3C1127.9,789 1131.6,786.1 1134.5,784.1C1137.5,782.2 1140.8,780.1 1143.3,778.6C1145.9,777.2 1148.1,776.6 1149.9,775.6C1151.8,774.5 1153.2,772.9 1154.3,772.2C1155.5,771.6 1156.2,771.7 1156.6,771.6" stroke="#fdd835" stroke-width="1.1"/>
</g>
<path d="M10,626.5H1351" stroke="#e0e3eb" stroke-width="1.2" fill="none"/>
<path d="M10,827.5H1351 M1285.5,27V854.5" stroke="#e1e2e6" stroke-width="1" fill="none"/>
<rect x="10.05" y="27.1" width="1340.95" height="827.4" fill="none" stroke="#f1f2f4" stroke-width="2"/>
<text x="1293.9" y="74.3" textLength="35.5" lengthAdjust="spacingAndGlyphs">1.0000</text>
<text x="1293.9" y="108" textLength="35.5" lengthAdjust="spacingAndGlyphs">0.9500</text>
<text x="1293.9" y="141.7" textLength="35.5" lengthAdjust="spacingAndGlyphs">0.9000</text>
<text x="1293.9" y="175.4" textLength="35.5" lengthAdjust="spacingAndGlyphs">0.8500</text>
<text x="1293.9" y="209.1" textLength="35.5" lengthAdjust="spacingAndGlyphs">0.8000</text>
<text x="1293.9" y="242.8" textLength="35.5" lengthAdjust="spacingAndGlyphs">0.7500</text>
<text x="1293.9" y="276.4" textLength="35.5" lengthAdjust="spacingAndGlyphs">0.7000</text>
<text x="1293.9" y="310.1" textLength="35.5" lengthAdjust="spacingAndGlyphs">0.6500</text>
<text x="1293.9" y="343.8" textLength="35.5" lengthAdjust="spacingAndGlyphs">0.6000</text>
<text x="1293.9" y="377.5" textLength="35.5" lengthAdjust="spacingAndGlyphs">0.5500</text>
<text x="1293.9" y="444.8" textLength="35.5" lengthAdjust="spacingAndGlyphs">0.4500</text>
<text x="1293.9" y="478.5" textLength="35.5" lengthAdjust="spacingAndGlyphs">0.4000</text>
<text x="1293.9" y="613.2" textLength="35.5" lengthAdjust="spacingAndGlyphs">0.2000</text>
<text x="1294.1" y="654.1" textLength="28.9" lengthAdjust="spacingAndGlyphs">80.00</text>
<text x="1294.1" y="713.8" textLength="28.9" lengthAdjust="spacingAndGlyphs">60.00</text>
<text x="68.7" y="845" text-anchor="middle">Jul</text>
<text x="213" y="845" text-anchor="middle">Aug</text>
<text x="357.2" y="845" text-anchor="middle">Sep</text>
<text x="496.8" y="845" text-anchor="middle">Oct</text>
<text x="641.1" y="845" text-anchor="middle">Nov</text>
<text x="780.7" y="845" text-anchor="middle">Dec</text>
<text x="924.9" y="845" text-anchor="middle" font-weight="bold">2026</text>
<text x="1069.2" y="845" text-anchor="middle">Feb</text>
<text x="1199.4" y="845" text-anchor="middle">Mar</text>
<rect x="1289" y="31" width="58" height="26" rx="4" fill="#fff" stroke="#e0e3eb" stroke-width="1"/>
<text x="1298.4" y="48.6" textLength="26" lengthAdjust="spacingAndGlyphs">USDT</text>
<path d="M1286,399.3H1332.5a2.5,2.5 0 0 1 2.5,2.5V413.3a2.5,2.5 0 0 1 -2.5,2.5H1286Z" fill="#0000ff"/>
<text x="1293.9" y="411.6" textLength="35.5" lengthAdjust="spacingAndGlyphs" style="fill:#fff;stroke:#fff" >0.5000</text>
<path d="M1237.5,496H1285V512.8H1237.5a2.5,2.5 0 0 1 -2.5,-2.5V498.5a2.5,2.5 0 0 1 2.5,-2.5Z" fill="#f23645"/>
<text x="1239.8" y="508.6" textLength="41.5" lengthAdjust="spacingAndGlyphs" style="fill:#fff;stroke:#fff" >SMA:MA</text>
<path d="M1286,496H1332.5a2.5,2.5 0 0 1 2.5,2.5V510.3a2.5,2.5 0 0 1 -2.5,2.5H1286Z" fill="#f23645"/>
<text x="1293.9" y="508.6" textLength="35.5" lengthAdjust="spacingAndGlyphs" style="fill:#fff;stroke:#fff" >0.3365</text>
<path d="M1286,513.4H1332.5a2.5,2.5 0 0 1 2.5,2.5V527.2a2.5,2.5 0 0 1 -2.5,2.5H1286Z" fill="#0000ff"/>
<text x="1293.9" y="525.7" textLength="35.5" lengthAdjust="spacingAndGlyphs" style="fill:#fff;stroke:#fff" >0.3300</text>
<path d="M1256.8,531.1H1285V547.7H1256.8a2.5,2.5 0 0 1 -2.5,-2.5V533.6a2.5,2.5 0 0 1 2.5,-2.5Z" fill="#2962ff"/>
<text x="1259.1" y="543.3" textLength="22.2" lengthAdjust="spacingAndGlyphs" style="fill:#fff;stroke:#fff" >EMA</text>
<path d="M1286,531.1H1332.5a2.5,2.5 0 0 1 2.5,2.5V545.2a2.5,2.5 0 0 1 -2.5,2.5H1286Z" fill="#2962ff"/>
<text x="1293.9" y="543.3" textLength="35.5" lengthAdjust="spacingAndGlyphs" style="fill:#fff;stroke:#fff" >0.2867</text>
<path d="M1229.7,548.1H1285V564.8H1229.7a2.5,2.5 0 0 1 -2.5,-2.5V550.6a2.5,2.5 0 0 1 2.5,-2.5Z" fill="#26a69a"/>
<text x="1231.4" y="560.3" textLength="48.3" lengthAdjust="spacingAndGlyphs" style="fill:#fff;stroke:#fff" >ADAUSDT</text>
<path d="M1286,548.1H1343.5a2.5,2.5 0 0 1 2.5,2.5V590.3a2.5,2.5 0 0 1 -2.5,2.5H1286Z" fill="#26a69a"/>
<text x="1293.9" y="560.3" textLength="35.5" lengthAdjust="spacingAndGlyphs" style="fill:#fff;stroke:#fff" >0.2779</text>
<text x="1293.9" y="574.7" textLength="42.7" lengthAdjust="spacingAndGlyphs" style="fill:#fff;stroke:#fff" >−53.99%</text>
<text x="1293.9" y="588.6" textLength="46.3" lengthAdjust="spacingAndGlyphs" style="fill:#fff;stroke:#fff" fill-opacity="0.7" stroke-opacity="0.7">09:08:08</text>
<path d="M1262.6,751.8H1285V768.7H1262.6a2.5,2.5 0 0 1 -2.5,-2.5V754.3a2.5,2.5 0 0 1 2.5,-2.5Z" fill="#7e57c2"/>
<text x="1265.4" y="764.8" textLength="15.6" lengthAdjust="spacingAndGlyphs" style="fill:#fff;stroke:#fff" >RSI</text>
<path d="M1286,751.8H1326.4a2.5,2.5 0 0 1 2.5,2.5V766.2a2.5,2.5 0 0 1 -2.5,2.5H1286Z" fill="#7e57c2"/>
<text x="1294.1" y="764.8" textLength="28.9" lengthAdjust="spacingAndGlyphs" style="fill:#fff;stroke:#fff" >42.97</text>
<path d="M1208.7,769.2H1285V785.8H1208.7a2.5,2.5 0 0 1 -2.5,-2.5V771.7a2.5,2.5 0 0 1 2.5,-2.5Z" fill="#fdd835"/>
<text x="1210.6" y="781.6" textLength="70.4" lengthAdjust="spacingAndGlyphs" style="fill:#131722;stroke:#131722" >RSI-based MA</text>
<path d="M1286,769.2H1326.4a2.5,2.5 0 0 1 2.5,2.5V783.3a2.5,2.5 0 0 1 -2.5,2.5H1286Z" fill="#fdd835"/>
<text x="1294.1" y="781.6" textLength="28.9" lengthAdjust="spacingAndGlyphs" style="fill:#131722;stroke:#131722" >38.78</text>
<text x="10.1" y="19.1" textLength="361.4" lengthAdjust="spacingAndGlyphs" style="fill:#131722;stroke:#131722" >ranadagger created with TradingView.com, Feb 20, 2026 14:51 UTC</text>
<text x="18.1" y="45.8" textLength="184" lengthAdjust="spacingAndGlyphs" style="fill:#131722;stroke:#131722" >Cardano / TetherUS · 1D · Binance</text>
<text x="210.1" y="45.8" textLength="7.3" lengthAdjust="spacingAndGlyphs" style="fill:#131722;stroke:#131722" >O</text>
<text x="218.6" y="45.8" textLength="35.7" lengthAdjust="spacingAndGlyphs" style="fill:#26a69a;stroke:#26a69a" >0.2730</text>
<text x="262" y="45.8" textLength="6.8" lengthAdjust="spacingAndGlyphs" style="fill:#131722;stroke:#131722" >H</text>
<text x="270" y="45.8" textLength="34.9" lengthAdjust="spacingAndGlyphs" style="fill:#26a69a;stroke:#26a69a" >0.2800</text>
<text x="312.9" y="45.8" textLength="4.9" lengthAdjust="spacingAndGlyphs" style="fill:#131722;stroke:#131722" >L</text>
<text x="319" y="45.8" textLength="34.9" lengthAdjust="spacingAndGlyphs" style="fill:#26a69a;stroke:#26a69a" >0.2699</text>
<text x="361.7" y="45.8" textLength="6.5" lengthAdjust="spacingAndGlyphs" style="fill:#131722;stroke:#131722" >C</text>
<text x="369" y="45.8" textLength="35" lengthAdjust="spacingAndGlyphs" style="fill:#26a69a;stroke:#26a69a" >0.2779</text>
<text x="411.9" y="45.8" textLength="90.2" lengthAdjust="spacingAndGlyphs" style="fill:#26a69a;stroke:#26a69a" >+0.0050 (+1.83%)</text>
<text x="18.1" y="62.7" textLength="81.6" lengthAdjust="spacingAndGlyphs" style="fill:#131722;stroke:#131722" >EMA (20, close)</text>
<text x="107.5" y="62.7" textLength="35.5" lengthAdjust="spacingAndGlyphs" style="fill:#2962ff;stroke:#2962ff" >0.2867</text>
<text x="18.1" y="79.7" textLength="81" lengthAdjust="spacingAndGlyphs" style="fill:#131722;stroke:#131722" >SMA (50, close)</text>
<text x="107" y="79.7" textLength="35.5" lengthAdjust="spacingAndGlyphs" style="fill:#f23645;stroke:#f23645" >0.3365</text>
<text x="18" y="646" textLength="75.7" lengthAdjust="spacingAndGlyphs" style="fill:#131722;stroke:#131722" >RSI (14, close)</text>
<text x="101.8" y="646" textLength="29.1" lengthAdjust="spacingAndGlyphs" style="fill:#7e57c2;stroke:#7e57c2" >42.97</text>
<text x="138.4" y="646" textLength="29.1" lengthAdjust="spacingAndGlyphs" style="fill:#fdd835;stroke:#fdd835" >38.78</text>
<g fill="#0e1016"><path transform="translate(12.05,873.75) scale(0.83)" d="M14 22H7V11H0V4h14v18zM28 22h-8l7.5-18h8L28 22z"/><circle cx="28.7" cy="879.9" r="2.9"/>
<text x="49.2" y="891.9" style="font-size:20px;font-weight:bold;fill:#0e1016;stroke:none" textLength="120.5" lengthAdjust="spacingAndGlyphs">TradingView</text></g>
</svg></body></html>
